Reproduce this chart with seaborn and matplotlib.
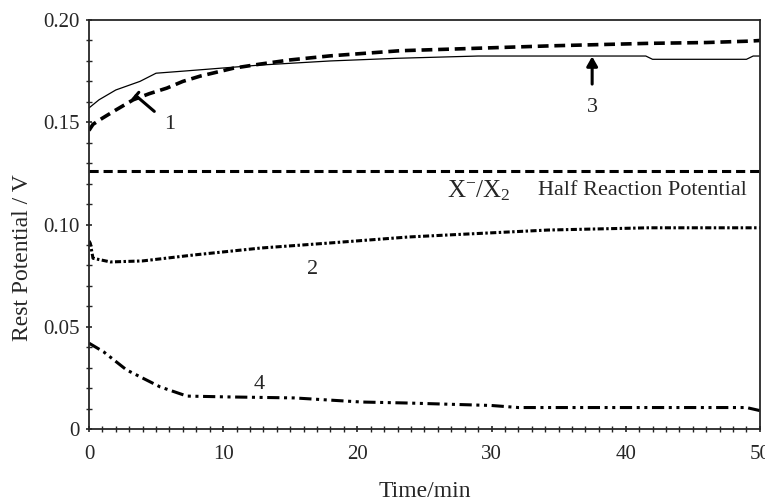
import numpy as np
import pandas as pd
import seaborn as sns
import matplotlib.pyplot as plt
from matplotlib.ticker import MultipleLocator, FuncFormatter

# curve 1 (thick dashed)
t1 = [0, 0.3, 1, 2, 3.3, 4.5, 5.8, 7, 8.3, 10.8, 12.8, 15, 18, 23.2, 28, 34.5, 41.7, 46, 49.3, 50]
v1 = [0.146, 0.149, 0.152, 0.156, 0.161, 0.164, 0.1667, 0.170, 0.1726, 0.1765, 0.1785, 0.1805, 0.1825,
      0.185, 0.186, 0.1874, 0.1886, 0.189, 0.1897, 0.190]
# curve 3 (thin solid)
t3 = [0, 0.75, 2, 3.8, 5, 7, 12.8, 18, 23, 29, 35, 41.5, 42, 49, 49.5, 50]
v3 = [0.157, 0.161, 0.1658, 0.170, 0.174, 0.175, 0.178, 0.180, 0.1813, 0.1824, 0.1824, 0.1824, 0.1808,
      0.1808, 0.1824, 0.1824]
# curve 2
t2 = [0, 0.1, 0.3, 1.6, 4.0, 7.8, 12.8, 17.8, 23.8, 26.8, 34.2, 41.7, 49.4, 50]
v2 = [0.092, 0.0908, 0.0835, 0.0817, 0.0822, 0.0851, 0.0885, 0.0909, 0.0939, 0.0949, 0.0973, 0.0984,
      0.0984, 0.0984]
# curve 4
t4 = [0, 1.1, 2.8, 5.3, 7.3, 10.3, 15.3, 20.3, 23.8, 30, 32, 40, 49, 50]
v4 = [0.042, 0.0377, 0.0289, 0.0206, 0.0161, 0.0157, 0.0152, 0.0132, 0.0127, 0.0115, 0.0105, 0.0105,
      0.0105, 0.009]
half_reaction = 0.1263

labels = ["1", "2", "3", "4"]

sns.set_style("ticks")
plt.rcParams['font.family'] = ['Liberation Serif', 'DejaVu Serif']
plt.rcParams['mathtext.fontset'] = 'custom'
plt.rcParams['mathtext.rm'] = 'Liberation Serif'
plt.rcParams['mathtext.it'] = 'Liberation Serif'

fig = plt.figure(figsize=(7.65, 5.01), dpi=100)
ax = fig.add_axes([0.1163, 0.1437, 0.877, 0.8163])

sns.lineplot(x=t1, y=v1, ax=ax, color='black', lw=2.6, linestyle=(0, (3, 1.6)))
sns.lineplot(x=t3, y=v3, ax=ax, color='black', lw=0.9)
sns.lineplot(x=t2, y=v2, ax=ax, color='black', lw=2.2, linestyle=(0, (2, 0.8, 0.8, 0.8)))
sns.lineplot(x=t4, y=v4, ax=ax, color='black', lw=2.2, linestyle=(0, (4, 1.5, 1, 1.5, 1, 1.5)))
ax.axhline(half_reaction, color='black', lw=2.2, linestyle=(0, (3, 1.6)))

ax.set_xlim(0, 50)
ax.set_ylim(0, 0.20)
ax.xaxis.set_major_locator(MultipleLocator(10))
ax.xaxis.set_minor_locator(MultipleLocator(1))
ax.yaxis.set_major_locator(MultipleLocator(0.05))
ax.yaxis.set_minor_locator(MultipleLocator(0.01))
ax.yaxis.set_major_formatter(FuncFormatter(lambda v, p: "0" if v == 0 else f"{v:.2f}"))
ax.tick_params(which='both', direction='inout', length=5, width=1.2, labelsize=15)
ax.tick_params(axis='x', pad=9)
ax.tick_params(axis='y', pad=4)
ax.tick_params(which='minor', length=4, width=1)
for s in ax.spines.values():
    s.set_linewidth(1.3)
ax.set_xlabel("Time/min", fontsize=17, labelpad=12)
ax.set_ylabel("Rest Potential / V", fontsize=17)
ax.yaxis.set_label_coords(-0.083, 0.42)

# curve labels
ax.annotate(labels[0], xy=(3.5, 0.163), xytext=(6.0, 0.149), fontsize=16, ha='center', va='center',
            arrowprops=dict(arrowstyle='-[, widthB=0.2, lengthB=0', lw=2.2, color='black',
                            shrinkA=6, shrinkB=0))
ax.annotate(labels[2], xy=(37.5, 0.1822), xytext=(37.5, 0.157), fontsize=16, ha='center', va='center',
            arrowprops=dict(arrowstyle='-|>, head_width=0.2, head_length=0.35', lw=2.2, color='black',
                            shrinkA=8, shrinkB=0))
ax.text(16.7, 0.078, labels[1], fontsize=16, ha='center', va='center')
ax.text(12.7, 0.0216, labels[3], fontsize=16, ha='center', va='center')
ax.text(49.0, 0.1165, "Half Reaction Potential", fontsize=16, ha='right', va='center')
ax.text(31.4, 0.1165, r"X$^{-}$/X$_2$", fontsize=18, ha='right', va='center')

plt.savefig("out.png", dpi=100)
